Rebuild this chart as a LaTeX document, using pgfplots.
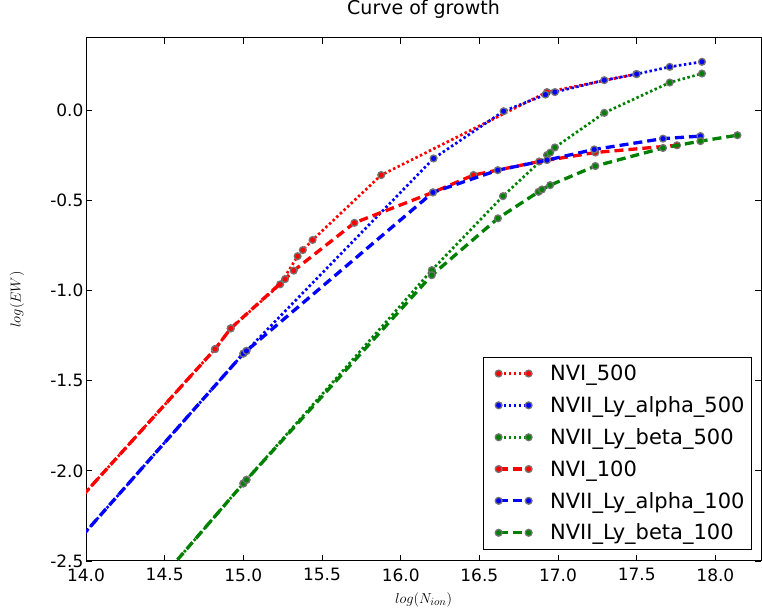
\documentclass[border=0pt]{standalone}
\usepackage{pgfplots}
\pgfplotsset{compat=1.18}
\usepackage{fontspec}
\setmainfont{DejaVu Sans}

\pgfplotsset{
  mk/.style={mark=*, mark size=3.4pt, mark options={solid, fill=#1, draw=black!55, line width=1.3pt}},
  dotl/.style={line width=2.7pt, dash pattern=on 2.5pt off 2.5pt},
  dashl/.style={line width=3.3pt, dash pattern=on 9pt off 5pt},
}
\definecolor{mplgreen}{RGB}{0,128,0}

\begin{document}
\begin{tikzpicture}
\path[use as bounding box] (-86pt,-51pt) rectangle (676pt,561pt);
\begin{axis}[
  at={(0pt,0pt)}, anchor=south west,
  width=675pt, height=523pt, scale only axis,
  xmin=14, xmax=18.29, ymin=-2.5, ymax=0.4,
  clip marker paths=true,
  axis line style={line width=1pt},
  tick align=inside,
  major tick length=6pt,
  tick style={line width=0.9pt, black},
  xtick={14,14.5,...,18},
  ytick={-2.5,-2,...,0},
  /pgf/number format/assume math mode=true,
  xticklabel style={yshift=-4pt, /pgf/number format/.cd, fixed, fixed zerofill, precision=1},
  yticklabel style={xshift=1pt, /pgf/number format/.cd, fixed, fixed zerofill, precision=1},
  tick label style={font=\fontsize{17}{20}\selectfont},
  title={Curve of growth},
  title style={font=\fontsize{19}{22}\selectfont, at={(axis description cs:0.5,1.044)}, anchor=center},
  xlabel={$log(N_{ion})$},
  ylabel={$log(EW)$},
  label style={font=\fontsize{15}{18}\selectfont},
  xlabel style={at={(axis description cs:0.5,-0.0746)}, anchor=center},
  ylabel style={at={(axis description cs:-0.102,0.5)}, anchor=center},
  legend cell align=left,
  legend style={at={(1,0)}, anchor=south east, xshift=-9pt, yshift=11pt,
    draw=black, line width=1pt, font=\fontsize{21}{25}\selectfont,
    inner xsep=5pt, inner ysep=6pt, row sep=10.5pt,
    nodes={inner sep=2pt},
    /tikz/every odd column/.style={column sep=16pt}},
  legend image code/.code={\path (-9pt,0pt); \draw[#1] plot coordinates {(0pt,0pt) (30pt,0pt)};},
]
% NVI_500
\addplot[red, dotl, mk=red] coordinates {
(13.5,-2.60) (14.82,-1.325) (14.92,-1.21) (15.234,-0.966) (15.345,-0.81)
(15.378,-0.776) (15.44,-0.72) (15.876,-0.36) (16.93,0.10) (17.497,0.20)};
% NVII_Ly_alpha_500
\addplot[blue, dotl, mk=blue] coordinates {
(13.5,-2.83) (15.0,-1.35) (15.02,-1.335) (16.209,-0.268) (16.654,-0.006)
(16.92,0.086) (16.98,0.10) (17.294,0.166) (17.50,0.20) (17.71,0.24) (17.915,0.268)};
% NVII_Ly_beta_500
\addplot[mplgreen, dotl, mk=mplgreen] coordinates {
(14.0,-3.08) (15.0,-2.07) (15.02,-2.05) (16.198,-0.887) (16.65,-0.477)
(16.93,-0.249) (16.95,-0.236) (16.98,-0.207) (17.294,-0.015) (17.71,0.153) (17.915,0.203)};
% NVI_100
\addplot[red, dashl, mk=red] coordinates {
(13.5,-2.60) (14.82,-1.325) (14.92,-1.21) (15.265,-0.937) (15.32,-0.89)
(15.706,-0.625) (16.205,-0.456) (16.463,-0.36) (16.88,-0.285) (17.237,-0.235) (17.756,-0.195)};
% NVII_Ly_alpha_100
\addplot[blue, dashl, mk=blue] coordinates {
(13.5,-2.83) (15.0,-1.35) (15.02,-1.335) (16.205,-0.456) (16.617,-0.333)
(16.93,-0.277) (17.23,-0.218) (17.667,-0.158) (17.905,-0.144)};
% NVII_Ly_beta_100
\addplot[mplgreen, dashl, mk=mplgreen] coordinates {
(14.0,-3.08) (15.0,-2.07) (15.02,-2.05) (16.198,-0.915) (16.618,-0.60)
(16.876,-0.453) (16.898,-0.44) (16.95,-0.416) (17.237,-0.31) (17.667,-0.21)
(17.905,-0.172) (18.14,-0.139)};
\legend{NVI\_500, NVII\_Ly\_alpha\_500, NVII\_Ly\_beta\_500, NVI\_100, NVII\_Ly\_alpha\_100, NVII\_Ly\_beta\_100}
\end{axis}
\end{tikzpicture}
\end{document}
